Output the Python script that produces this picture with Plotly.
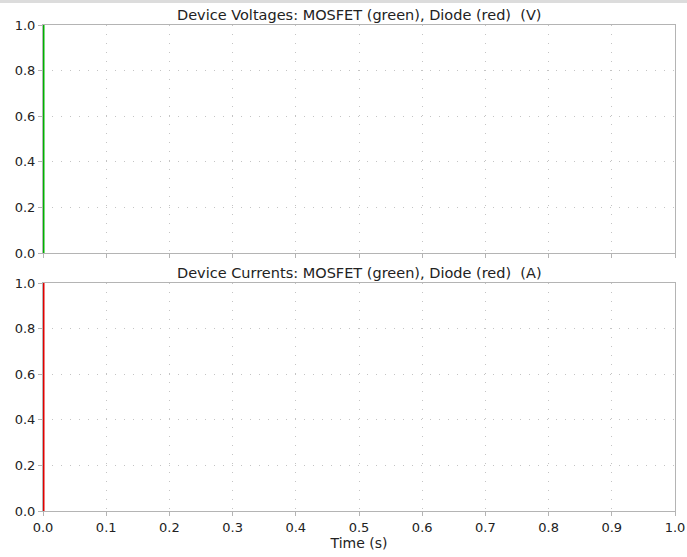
import plotly.graph_objects as go
from plotly.subplots import make_subplots

# Data
time = [0.0, 0.0]
mosfet_voltage = [0.0, 1.0]
diode_voltage = [0.0, 0.0]
mosfet_current = [0.0, 0.0]
diode_current = [0.0, 1.0]

titles = ["Device Voltages: MOSFET (green), Diode (red)  (V)",
          "Device Currents: MOSFET (green), Diode (red)  (A)"]
x_ticks = [0.0, 0.1, 0.2, 0.3, 0.4, 0.5, 0.6, 0.7, 0.8, 0.9, 1.0]
y_ticks = [0.0, 0.2, 0.4, 0.6, 0.8, 1.0]

W, H = 687, 557
ml, mr, mt, mb = 43, 12, 25, 46
ph = H - mt - mb
frac = 228 / ph
FS_TICK = 13
FS_TITLE = 14.5
FONT = "DejaVu Sans"
TXT = "#222222"

fig = make_subplots(rows=2, cols=1, shared_xaxes=False, vertical_spacing=1 - 2 * frac)

GREEN = "#00b000"
RED = "#e00000"
LW = 3

fig.add_trace(go.Scatter(x=time, y=diode_voltage, mode="lines",
                         line=dict(color=RED, width=LW), showlegend=False), row=1, col=1)
fig.add_trace(go.Scatter(x=time, y=mosfet_voltage, mode="lines",
                         line=dict(color=GREEN, width=LW), showlegend=False), row=1, col=1)
fig.add_trace(go.Scatter(x=time, y=mosfet_current, mode="lines",
                         line=dict(color=GREEN, width=LW), showlegend=False), row=2, col=1)
fig.add_trace(go.Scatter(x=time, y=diode_current, mode="lines",
                         line=dict(color=RED, width=LW), showlegend=False), row=2, col=1)

axis_common = dict(
    range=[0, 1], showline=True, linecolor="#b4b4b4", linewidth=1, mirror=True,
    showgrid=True, gridcolor="#c4c4c4", griddash="1px,8px", gridwidth=1,
    zeroline=False, ticks="outside", ticklen=4, tickcolor="#b4b4b4",
    tickfont=dict(family=FONT, size=FS_TICK, color=TXT), automargin=False,
    layer="below traces",
)

for r in (1, 2):
    fig.update_xaxes(tickvals=x_ticks, ticktext=[f"{v:.1f}" for v in x_ticks],
                     showticklabels=(r == 2), **axis_common, row=r, col=1)
    fig.update_yaxes(tickvals=y_ticks, ticktext=[f"{v:.1f}" for v in y_ticks],
                     **axis_common, row=r, col=1)

fig.update_xaxes(title=dict(text="Time (s)", font=dict(family=FONT, size=14, color=TXT),
                            standoff=0), row=2, col=1)

for i, t in enumerate(titles):
    yref = "y domain" if i == 0 else "y2 domain"
    fig.add_annotation(text=t, xref="paper", x=0.5, yref=yref, y=1, yanchor="bottom",
                       showarrow=False, yshift=0,
                       font=dict(family=FONT, size=FS_TITLE, color=TXT))

# Thin grey band at the top of the page
fig.add_shape(type="rect", xref="paper", yref="paper", x0=-ml / (W - ml - mr), x1=1 + mr / (W - ml - mr),
              y0=1 + (mt - 3) / ph, y1=1 + (mt + 1) / ph, fillcolor="#dcdcdc", line=dict(width=0),
              layer="above")

fig.update_layout(width=W, height=H, margin=dict(l=ml, r=mr, t=mt, b=mb),
                  plot_bgcolor="white", paper_bgcolor="white",
                  font=dict(family=FONT, size=FS_TICK, color=TXT))

fig.write_html("out.html", config={"displayModeBar": False},
               post_script="document.body.style.margin='0';document.body.style.overflow='hidden';")
